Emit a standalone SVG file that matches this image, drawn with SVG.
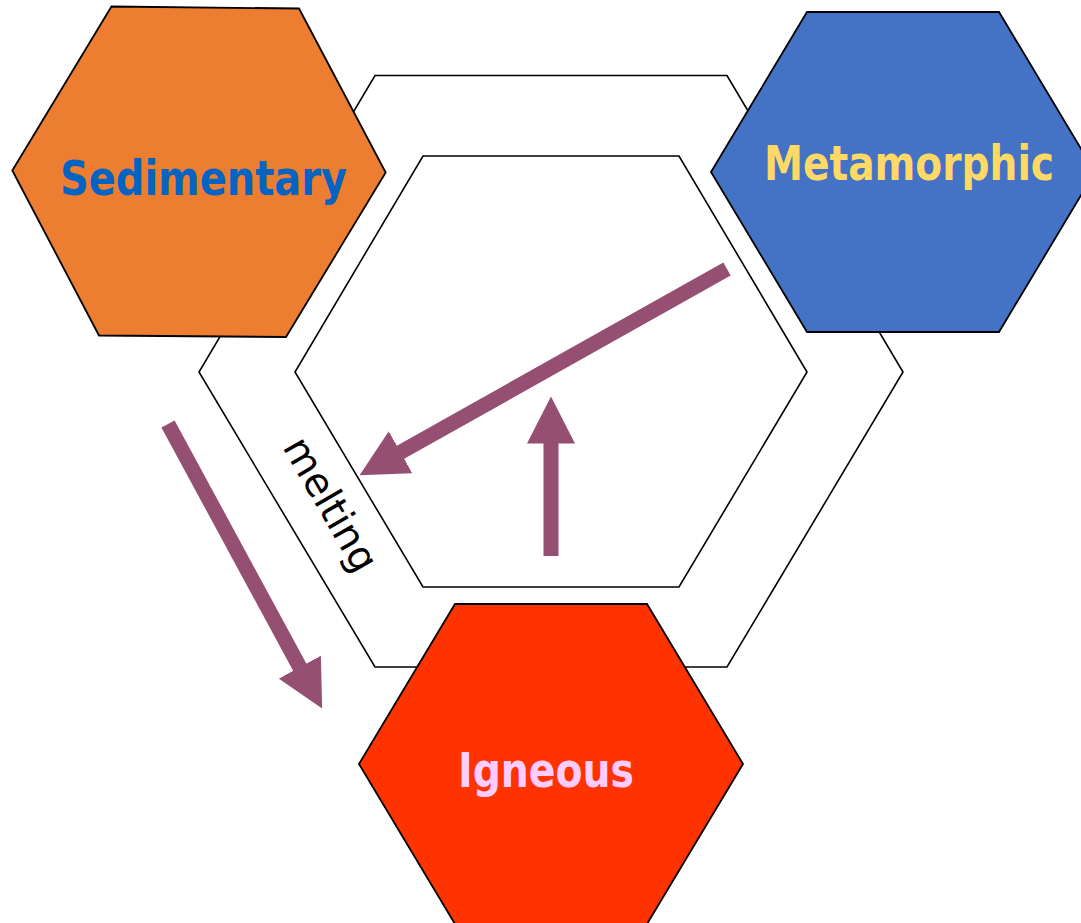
<svg xmlns="http://www.w3.org/2000/svg" width="1081" height="923" viewBox="0 0 1081 923">
<style>
.frame{fill:none;stroke:#000;stroke-width:1.6}
.hex{stroke:#000;stroke-width:1.8}
.lbl{font-family:"Comic Sans MS","DejaVu Sans",sans-serif;font-weight:bold;font-size:48px;text-anchor:middle}
.arrow{stroke:#954F72;stroke-width:15;fill:none}
.melt{font-family:"Comic Sans MS","DejaVu Sans",sans-serif;font-size:40px;text-anchor:middle;fill:#000}
</style>
<defs>
<marker id="head" markerUnits="userSpaceOnUse" viewBox="0 0 47 48" markerWidth="47" markerHeight="48" refX="0.5" refY="24" orient="auto">
<polygon points="0,0 47,24 0,48" fill="#954F72"/>
</marker>
</defs>
<g id="cycle-frame">
<polygon class="frame" points="375,75.5 727,75.5 903,372 727,667 375,667 199,372"/>
<polygon class="frame" points="423,156 679,156 807,372 679,587 423,587 295,372"/>
</g>
<g id="sedimentary">
<polygon class="hex" fill="#ED7D31" points="111.5,6.5 299,8.5 385.7,172.5 286,337 99,335.5 12.3,170.5"/>
<text class="lbl" x="203.5" y="195" fill="#0563C1" textLength="287" lengthAdjust="spacingAndGlyphs">Sedimentary</text>
</g>
<g id="metamorphic">
<polygon class="hex" fill="#4472C4" points="807,12 999,12 1095,172 999,332 807,332 711,172"/>
<text class="lbl" x="909" y="180" fill="#FFD966" textLength="290" lengthAdjust="spacingAndGlyphs">Metamorphic</text>
</g>
<g id="igneous">
<polygon class="hex" fill="#FF3300" points="455,604 647,604 743,764 647,924 455,924 359,764"/>
<text class="lbl" x="546" y="787" fill="#FFCCFF" textLength="176" lengthAdjust="spacingAndGlyphs">Igneous</text>
</g>
<g id="connectors">
<line class="arrow" x1="727" y1="269" x2="400.1" y2="452.5" marker-end="url(#head)"/>
<line class="arrow" x1="551" y1="556" x2="551" y2="443" marker-end="url(#head)"/>
<line class="arrow" x1="168" y1="424" x2="300" y2="667.6" marker-end="url(#head)"/>
</g>
<g id="melting-label">
<text class="melt" transform="translate(319,511) rotate(60)" textLength="148" lengthAdjust="spacingAndGlyphs">melting</text>
</g>
</svg>
